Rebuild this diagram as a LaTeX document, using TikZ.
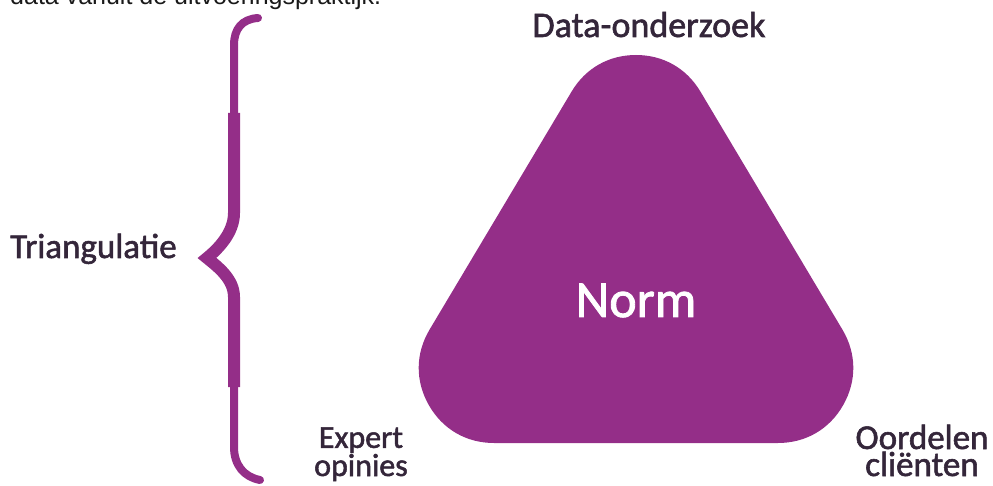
\documentclass[tikz,border=0pt]{standalone}
\usepackage{fontspec}
\setmainfont{Carlito}
\newfontfamily\semib[FakeBold=1.6]{Carlito}
\newfontfamily\topfont{Liberation Sans}
\definecolor{pur}{RGB}{148,46,136}
\definecolor{txt}{RGB}{52,38,58}
\begin{document}
\begin{tikzpicture}[x=1pt,y=1pt,
  lbl/.style={inner sep=0pt,text=txt,align=center,font=\semib\fontsize{35}{27}\selectfont},
  lblsm/.style={inner sep=0pt,text=txt,align=center,font=\semib\fontsize{32}{27}\selectfont}]
\useasboundingbox (0,0) rectangle (993,485);
\begin{scope}
\clip (0,0) rectangle (993,485);
\node[inner sep=0pt,anchor=base west,text=black!90,font=\topfont\fontsize{25}{25}\selectfont] (intro) at (10,480) {data vanuit de uitvoeringspraktijk.};
\end{scope}
% rounded triangle
\filldraw[fill=pur,draw=pur,line width=150pt,line join=round] (636,355) -- (494,117) -- (778,117) -- cycle;
\node[inner sep=0pt,anchor=base,text=white,font=\semib\fontsize{52}{52}\selectfont] (norm) at (636,168) {Norm};
% brace
\draw[pur,line width=8pt,line cap=round,line join=miter]
  (258,467) .. controls (242,466) and (234,456) .. (234,440) -- (234,272)
  .. controls (234,252) and (218,236) .. (207,227)
  .. controls (218,218) and (234,206) .. (234,188) -- (234,38)
  .. controls (234,20) and (244,8) .. (260,5);
\draw[pur,line width=12pt,line join=miter]
  (234,372) -- (234,272)
  .. controls (234,252) and (218,236) .. (207,227)
  .. controls (218,218) and (234,206) .. (234,188) -- (234,98);
\node[lbl,anchor=base,font=\semib\fontsize{36}{36}\selectfont] (data) at (649,448) {Data-onderzoek};
\node[lbl,anchor=base west] (tri) at (10,227) {Triangulatie};
\node[lblsm,anchor=base] (expert) at (361,9) {Expert\\opinies};
\node[lbl,anchor=base] (oord) at (922,9) {Oordelen\\cliënten};
\end{tikzpicture}
\end{document}
